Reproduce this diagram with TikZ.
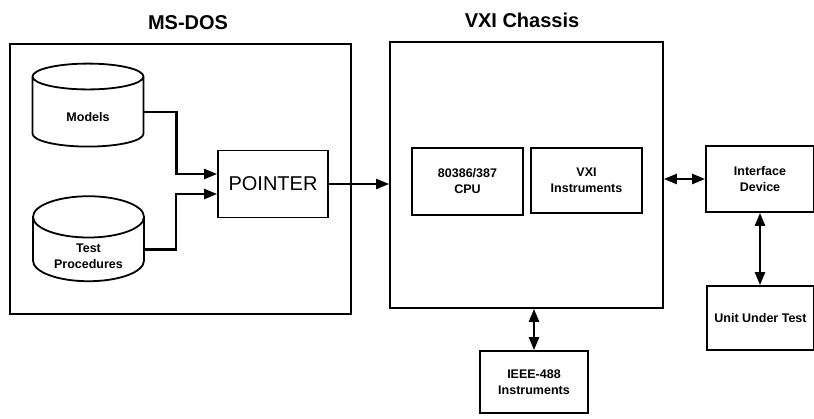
\documentclass[tikz,border=0pt]{standalone}
\usepackage{fontspec}
\setmainfont{Liberation Sans}
\usepackage{tikz}
\usetikzlibrary{
        arrows.meta,
        positioning,
        shapes.geometric
    }
\tikzset{>={Triangle[length=13pt,width=10pt]}}
\tikzset{small/.style={font=\fontsize{12.5}{16}\selectfont\bfseries}}
\newcommand{\lowered}[2]{\raisebox{-#1}[0pt][0pt]{\begin{tabular}[t]{@{}c@{}}#2\end{tabular}}}

\begin{document}
\begin{tikzpicture}[x=1pt,y=-1pt,line width=1.8pt,
        box/.style={draw,rectangle,inner sep=0pt,align=center,small},
        store/.style={draw,cylinder,shape border rotate=90,aspect=0.6,inner sep=0pt,align=center,small},
        title/.style={font=\fontsize{20}{24}\selectfont\bfseries}]
        \useasboundingbox (0,0) rectangle (814,418);
        % host side
        \node[title] (dostitle) at (188,23) {MS-DOS};
        \node[box,minimum width=341pt,minimum height=270pt] (dos) at (180.5,179) {};
        \node[store,minimum width=111pt,minimum height=83pt] (models) at (88,112) {\lowered{9.5pt}{Models}};
        \node[store,minimum width=111pt,minimum height=85pt] (tests) at (88.5,249.5) {\lowered{3pt}{Test\\Procedures}};
        \node[box,minimum width=110pt,minimum height=67pt,font=\fontsize{20}{24}\selectfont] (pointer) at (273,184) {POINTER};
        % chassis side
        \node[title] (vxititle) at (522,20) {VXI Chassis};
        \node[box,minimum width=273pt,minimum height=266pt] (vxi) at (526.5,175) {};
        \node[box,minimum width=111pt,minimum height=67pt] (cpu) at (467.5,181.5) {80386/387\\CPU};
        \node[box,minimum width=111pt,minimum height=65pt] (inst) at (586.5,180.5) {VXI\\Instruments};
        \node[box,minimum width=108pt,minimum height=66pt] (iface) at (760,179) {Interface\\Device};
        \node[box,minimum width=107pt,minimum height=64pt] (uut) at (760.5,318) {Unit Under Test};
        \node[box,minimum width=108pt,minimum height=62pt] (ieee) at (534,382) {IEEE-488\\Instruments};
        \path[->,line width=2.4pt]
            (models.east) edge[to path={-- ++(32,0) |- (\tikztotarget)}] ([yshift=10pt]pointer.west)
            (tests.east)  edge[to path={-- ++(31,0) |- (\tikztotarget)}] ([yshift=-10pt]pointer.west)
            (pointer.east) edge (pointer.east -| vxi.west)
        ;
        \path[<->,line width=2.4pt]
            (iface.west -| vxi.east) edge (iface.west)
            (iface.south) edge (iface.south |- uut.north)
            (ieee.north |- vxi.south) edge (ieee.north)
        ;
    \end{tikzpicture}
\end{document}
